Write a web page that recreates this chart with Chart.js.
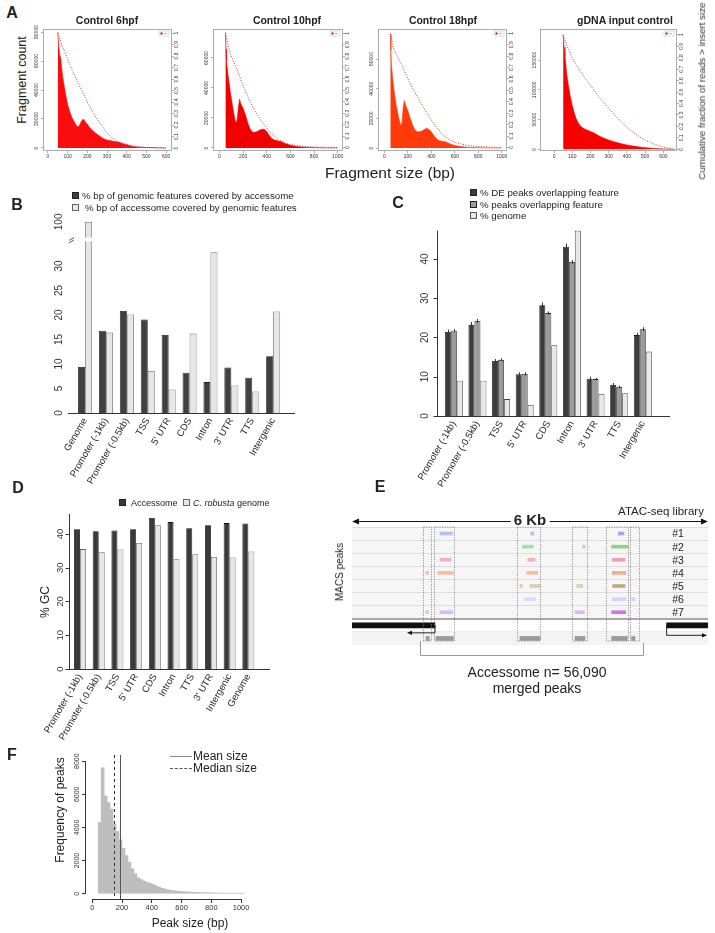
<!DOCTYPE html>
<html>
<head>
<meta charset="utf-8">
<title>ATAC-seq accessome</title>
<script src="https://cdn.jsdelivr.net/npm/chart.js@4.4.1/dist/chart.umd.min.js"></script>
<style>
  body { margin: 0; width: 715px; height: 933px; background: #fff; position: relative; overflow: hidden;
         font-family: "Liberation Sans", Arial, Helvetica, sans-serif; color: #222; }
  canvas { position: absolute; }
  .lbl { position: absolute; white-space: nowrap; line-height: 1; transform: translate(-50%, -50%); }
  .left { position: absolute; white-space: nowrap; line-height: 1; transform: translateY(-50%); }
  .rot { transform: translate(-50%, -50%) rotate(-90deg); }
  .letter { font-weight: bold; font-size: 16px; }
  .ttl { font-weight: bold; font-size: 10.5px; }
  .key { position: absolute; width: 5px; height: 5px; border: 1px solid #222; }
</style>
</head>
<body>
<canvas id="a1" width="160" height="140" style="left:30px;top:25px"></canvas>
<canvas id="a2" width="160" height="140" style="left:200px;top:25px"></canvas>
<canvas id="a3" width="160" height="140" style="left:365px;top:25px"></canvas>
<canvas id="a4" width="170" height="140" style="left:527px;top:25px"></canvas>
<canvas id="b" width="290" height="290" style="left:20px;top:210px"></canvas>
<canvas id="c" width="315" height="290" style="left:375px;top:225px"></canvas>
<canvas id="d" width="280" height="255" style="left:10px;top:505px"></canvas>
<canvas id="e" width="375" height="150" style="left:340px;top:510px"></canvas>
<canvas id="f" width="230" height="180" style="left:40px;top:745px"></canvas>

<div class="lbl letter" style="left:12px;top:13px">A</div>
<div class="lbl ttl" style="left:107px;top:20px">Control 6hpf</div>
<div class="lbl ttl" style="left:287px;top:20px">Control 10hpf</div>
<div class="lbl ttl" style="left:443px;top:20px">Control 18hpf</div>
<div class="lbl ttl" style="left:625px;top:20px">gDNA input control</div>
<div class="lbl rot" style="left:22px;top:80px;font-size:12.5px">Fragment count</div>
<div class="lbl" style="left:390px;top:173px;font-size:15.5px">Fragment size (bp)</div>
<div class="lbl rot" style="left:702px;top:91px;font-size:9.8px;color:#333">Cumulative fraction of reads &gt; insert size</div>

<div class="lbl letter" style="left:17px;top:205px">B</div>
<div class="key" style="left:72px;top:192px;background:#404040"></div>
<div class="left" style="left:82px;top:196px;font-size:9.7px">% bp of genomic features covered by accessome</div>
<div class="key" style="left:72px;top:204px;background:#e8e8e8;border-color:#666"></div>
<div class="left" style="left:85px;top:208px;font-size:9.7px">% bp of accessome covered by genomic features</div>

<div class="lbl letter" style="left:398px;top:203px">C</div>
<div class="key" style="left:470px;top:189px;background:#3d3d3d"></div>
<div class="left" style="left:480px;top:193px;font-size:9.7px">% DE peaks overlapping feature</div>
<div class="key" style="left:470px;top:201px;background:#9b9b9b"></div>
<div class="left" style="left:480px;top:205px;font-size:9.7px">% peaks overlapping feature</div>
<div class="key" style="left:470px;top:212px;background:#e8e8e8;border-color:#555"></div>
<div class="left" style="left:480px;top:216px;font-size:9.7px">% genome</div>

<div class="lbl letter" style="left:18px;top:488px">D</div>
<div class="key" style="left:119px;top:499px;background:#3a3a3a"></div>
<div class="left" style="left:131px;top:503px;font-size:9px">Accessome</div>
<div class="key" style="left:183px;top:499px;background:#e6e6e6;border-color:#666"></div>
<div class="left" style="left:193px;top:503px;font-size:9px"><i>C. robusta</i> genome</div>
<div class="lbl rot" style="left:45px;top:602px;font-size:12px">% GC</div>

<div class="lbl letter" style="left:380px;top:487px">E</div>
<div class="lbl" style="left:530px;top:519px;font-size:15px;font-weight:bold;background:#fff;padding:0 3px">6 Kb</div>
<div class="lbl" style="left:661px;top:512px;font-size:11.5px">ATAC-seq library</div>
<div class="lbl rot" style="left:340px;top:572px;font-size:10px">MACS peaks</div>
<div class="lbl" style="left:537px;top:672px;font-size:14px">Accessome n= 56,090</div>
<div class="lbl" style="left:537px;top:688px;font-size:14px">merged peaks</div>

<div class="lbl letter" style="left:12px;top:755px">F</div>
<div class="lbl rot" style="left:60px;top:810px;font-size:12px">Frequency of peaks</div>
<div class="lbl" style="left:190px;top:923px;font-size:12px">Peak size (bp)</div>
<div style="position:absolute;left:170px;top:756px;width:22px;border-top:1px solid #888"></div>
<div class="left" style="left:193px;top:756px;font-size:12px">Mean size</div>
<div style="position:absolute;left:170px;top:768px;width:22px;border-top:1px dashed #555"></div>
<div class="left" style="left:193px;top:768px;font-size:12px">Median size</div>

<script>
// ---------- A: fragment size distributions ----------
const sizes6 = [50, 55, 60, 65, 70, 75, 80, 90, 100, 110, 120, 130, 140, 150, 160, 170, 180, 190, 200, 210, 220, 240, 260, 280, 300, 320, 340, 360, 380, 400, 430, 460, 500, 550, 600];
const counts6 = [80000, 70000, 64000, 62000, 55000, 49000, 45000, 37000, 30000, 25500, 21500, 19000, 16500, 14500, 15500, 18500, 20000, 18000, 16500, 14500, 13000, 10500, 8500, 6500, 5500, 5000, 4400, 3900, 3000, 2200, 1100, 600, 300, 120, 0];
const cumX6 = [50, 75, 100, 125, 150, 175, 200, 225, 250, 275, 300, 325, 350, 400, 450, 500, 600];
const cum6 = [1.0, 0.88, 0.77, 0.67, 0.58, 0.49, 0.40, 0.32, 0.25, 0.19, 0.13, 0.09, 0.06, 0.03, 0.012, 0.005, 0];

const sizes10 = [50, 55, 60, 70, 80, 90, 100, 110, 120, 130, 140, 150, 160, 170, 180, 190, 200, 220, 240, 260, 280, 300, 320, 340, 360, 380, 400, 420, 440, 460, 480, 500, 520, 540, 560, 600, 650, 700, 750, 800, 900, 1000];
const counts10 = [77000, 66000, 58000, 50000, 44000, 38000, 33000, 28000, 23500, 19000, 16500, 19000, 27000, 32500, 29500, 28000, 26500, 22000, 16500, 12500, 10500, 10500, 11000, 12000, 12500, 12500, 11000, 8500, 6500, 5500, 5000, 4700, 4300, 3500, 2800, 1800, 1000, 600, 350, 200, 80, 0];
const sizes18 = [50, 55, 60, 70, 80, 90, 100, 110, 120, 130, 140, 150, 160, 170, 180, 190, 200, 220, 240, 260, 280, 300, 320, 340, 360, 380, 400, 420, 440, 460, 480, 500, 520, 540, 560, 600, 650, 700, 750, 800, 900, 1000];
const counts18 = [76800, 66000, 56000, 47000, 40000, 34000, 29000, 25000, 21000, 17500, 15000, 17000, 27500, 32000, 29000, 27000, 25000, 20000, 15500, 12000, 11000, 11000, 11500, 12500, 13300, 12500, 11000, 8500, 6500, 5200, 4800, 4400, 4200, 3500, 2700, 1700, 1000, 550, 300, 150, 50, 0];
const cumX1018 = [50, 75, 100, 125, 150, 175, 200, 250, 300, 350, 400, 450, 500, 550, 600, 700, 800, 1000];
const cum10 = [1.0, 0.88, 0.80, 0.74, 0.68, 0.61, 0.54, 0.42, 0.32, 0.24, 0.17, 0.11, 0.07, 0.04, 0.025, 0.01, 0.004, 0];
const cum18 = [1.0, 0.88, 0.82, 0.77, 0.72, 0.66, 0.60, 0.50, 0.41, 0.32, 0.24, 0.17, 0.11, 0.07, 0.045, 0.02, 0.008, 0];

const sizesG = [50, 55, 60, 70, 80, 90, 100, 110, 120, 130, 140, 150, 160, 180, 200, 220, 250, 275, 300, 325, 350, 375, 400, 450, 500, 550, 600, 650, 665];
const countsG = [193000, 172000, 157000, 126000, 105000, 88000, 74000, 62000, 53000, 46000, 41000, 38000, 35500, 32500, 30000, 27500, 22000, 18500, 15500, 13000, 11000, 9000, 7300, 4800, 2800, 1500, 700, 200, 0];
const cumXG = [50, 75, 100, 125, 150, 175, 200, 250, 300, 350, 400, 450, 500, 550, 600, 650];
const cumG = [1.0, 0.89, 0.80, 0.73, 0.67, 0.61, 0.56, 0.45, 0.36, 0.27, 0.19, 0.13, 0.08, 0.045, 0.02, 0];

const xTicks600 = [0, 100, 200, 300, 400, 500, 600];
const xTicks1000 = [0, 200, 400, 600, 800, 1000];
const yTicks80k = [0, 20000, 40000, 60000, 80000];
const yTicks60k = [0, 20000, 40000, 60000];
const yTicksG = [0, 50000, 100000, 150000];
const cumTicks = [0, 0.1, 0.2, 0.3, 0.4, 0.5, 0.6, 0.7, 0.8, 0.9, 1];

// ---------- B ----------
const featB = ['Genome', 'Promoter (-1kb)', 'Promoter (-0.5kb)', 'TSS', "5' UTR", 'CDS', 'Intron', "3' UTR", 'TTS', 'Intergenic'];
const bFeatCov = [9.4, 16.8, 20.8, 19.1, 15.9, 8.2, 6.3, 9.3, 7.2, 11.6];
const bAccCov = [100, 16.4, 20.1, 8.6, 4.8, 16.2, 32.8, 5.6, 4.4, 20.7];
const bTicks = [0, 5, 10, 15, 20, 25, 30, 100];

// ---------- C ----------
const featC = ['Promoter (-1kb)', 'Promoter (-0.5kb)', 'TSS', "5' UTR", 'CDS', 'Intron', "3' UTR", 'TTS', 'Intergenic'];
const cDE = [21.4, 23.2, 14.0, 10.6, 28.2, 43.1, 9.5, 7.9, 20.6];
const cPeaks = [21.7, 24.2, 14.3, 10.7, 26.2, 39.2, 9.4, 7.4, 22.1];
const cGenome = [9.0, 9.0, 4.3, 2.8, 18.0, 47.2, 5.6, 5.8, 16.4];
const cDEErr = [0.6, 0.7, 0.5, 0.5, 0.7, 0.8, 0.5, 0.5, 0.6];
const cPeaksErr = [0.4, 0.5, 0.4, 0.4, 0.4, 0.5, 0.3, 0.3, 0.5];
const cTicks = [0, 10, 20, 30, 40];

// ---------- D ----------
const featD = ['Promoter (-1kb)', 'Promoter (-0.5kb)', 'TSS', "5' UTR", 'CDS', 'Intron', 'TTS', "3' UTR", 'Intergenic', 'Genome'];
const dAccessome = [41.4, 40.8, 41.0, 41.4, 44.7, 43.5, 41.7, 42.6, 43.2, 43.1];
const dGenome = [35.5, 34.6, 35.4, 37.3, 42.6, 32.5, 34.0, 33.2, 33.0, 34.8];
const dTicks = [0, 10, 20, 30, 40];

// ---------- E (positions in bp over the 6 kb window) ----------
const eLib = ['#1', '#2', '#3', '#4', '#5', '#6', '#7'];
const ePeakStart = [[1483, 3011, 4489], [2871, 3888, 4376], [1483, 2961, 4388], [1247, 1444, 2944, 4388], [2831, 3000, 3787, 4393], [2905, 4388, 4713], [1247, 1483, 3758, 4376]];
const ePeakEnd = [[1691, 3067, 4584], [3056, 3927, 4657], [1669, 3084, 4601], [1287, 1708, 3129, 4612], [2871, 3169, 3888, 4601], [3096, 4618, 4770], [1287, 1697, 3916, 4612]];
const eSoft = ['#bdbdf3', '#aedcaa', '#f5aec5', '#f5bca2', '#dccdab', '#dcdcfa', '#dcbaf4'];
const eStrong = ['#a4a4ea', '#95d08e', '#f29cba', '#f2ac8e', '#c4a878', '#d4d4f8', '#c67ae4'];
const mergedStart = [1247, 1416, 2831, 3758, 4376, 4713];
const mergedEnd = [1303, 1708, 3169, 3927, 4641, 4770];
const geneStart = [0, 5303];
const geneEnd = [1399, 6000];
const boxStart = [1191, 1387, 2775, 3713, 4275, 4685];
const boxEnd = [1326, 1725, 3169, 3966, 4657, 4837];

// ---------- F ----------
const fBinMid = [50, 70, 90, 110, 130, 150, 170, 190, 210, 230, 250, 270, 290, 310, 330, 350, 370, 390, 410, 430, 450, 470, 490, 510, 530, 550, 570, 590, 610, 630, 650, 670, 690, 710, 730, 750, 770, 790, 810, 830, 850, 870, 890, 910, 930, 950, 970, 990, 1010];
const fCounts = [4300, 7600, 5900, 5500, 5100, 4200, 3750, 3250, 2750, 2300, 1900, 1500, 1200, 950, 850, 760, 680, 620, 560, 480, 400, 330, 280, 240, 205, 180, 160, 140, 125, 112, 100, 90, 82, 75, 68, 62, 57, 52, 48, 44, 40, 37, 34, 31, 28, 26, 24, 22, 20];
const fXTicks = [0, 200, 400, 600, 800, 1000];
const fYTicks = [0, 2000, 4000, 6000, 8000];
const meanSize = 187;
const medianSize = 147;

Chart.defaults.font.family = '"Liberation Sans", Arial, Helvetica, sans-serif';
Chart.defaults.color = '#333';
Chart.defaults.animation = false;
Chart.defaults.responsive = false;
Chart.defaults.events = [];
Chart.defaults.plugins.legend.display = false;
Chart.defaults.plugins.tooltip.enabled = false;

const asText = v => String(v);
const setTicks = vals => s => { s.ticks = vals.map(v => ({value: v})); };
const fixW = w => s => { s.width = w; s.paddingTop = 0; s.paddingBottom = 0; };
const fixH = h => s => { s.height = h; s.paddingLeft = 0; s.paddingRight = 0; };
const noGrid = {display: false, drawTicks: false};

// box round the R plot + the tiny legend key
const frameBox = {
  id: 'frameBox',
  afterDraw(chart) {
    const {ctx, chartArea: a} = chart;
    ctx.save();
    ctx.strokeStyle = '#9a9a9a';
    ctx.lineWidth = 0.8;
    ctx.strokeRect(a.left + 0.5, a.top + 0.5, a.right - a.left - 1, a.bottom - a.top - 1);
    ctx.fillStyle = '#fff';
    ctx.fillRect(a.right - 13, a.top + 2, 10, 5);
    ctx.strokeStyle = '#bbb';
    ctx.lineWidth = 0.5;
    ctx.strokeRect(a.right - 13, a.top + 2, 10, 5);
    ctx.fillStyle = '#a01010';
    ctx.fillRect(a.right - 11.5, a.top + 3.5, 2, 2);
    ctx.fillStyle = '#999';
    ctx.fillRect(a.right - 8, a.top + 4.2, 3, 0.7);
    ctx.restore();
  }
};

function fragChart(id, sizes, counts, cumX, cum, xr, yr, cr, xt, yt, col, wy1, padY) {
  const tickGrid = {drawOnChartArea: false, tickLength: 2, color: '#777', lineWidth: 0.6};
  return new Chart(document.getElementById(id), {
    type: 'line',
    data: {
      datasets: [
        {data: cumX.map((x, i) => ({x, y: cum[i]})), yAxisID: 'y1', order: 1, fill: false,
         borderColor: '#a3282a', borderWidth: 0.9, borderDash: [1, 1.6], pointRadius: 0},
        {data: sizes.map((x, i) => ({x, y: counts[i]})), yAxisID: 'y', order: 2, fill: 'origin',
         borderColor: col, backgroundColor: col, borderWidth: 0.6, pointRadius: 0}
      ]
    },
    options: {
      layout: {padding: {top: 4}},
      scales: {
        x: {type: 'linear', min: xr[0], max: xr[1], afterBuildTicks: setTicks(xt), afterFit: fixH(14),
            border: {display: false}, grid: tickGrid,
            ticks: {font: {size: 5}, padding: 1, maxRotation: 0, callback: asText}},
        y: {min: yr[0], max: yr[1], afterBuildTicks: setTicks(yt), afterFit: fixW(13),
            border: {display: false}, grid: tickGrid,
            ticks: {font: {size: 5}, padding: padY, minRotation: 90, maxRotation: 90, crossAlign: 'center', callback: asText}},
        y1: {position: 'right', min: cr[0], max: cr[1], afterBuildTicks: setTicks(cumTicks), afterFit: fixW(wy1),
             border: {display: false}, grid: tickGrid,
             ticks: {font: {size: 5}, padding: -0.5, minRotation: 90, maxRotation: 90, crossAlign: 'center', callback: asText}}
      }
    },
    plugins: [frameBox]
  });
}

fragChart('a1', sizes6, counts6, cumX6, cum6, [-25, 630], [-2070, 82070], [-0.026, 1.035], xTicks600, yTicks80k, '#fb0d0d', 18, -3);
fragChart('a2', sizes10, counts10, cumX1018, cum10, [-55, 1045], [-2000, 79300], [-0.031, 1.038], xTicks1000, yTicks60k, '#f20000', 17, -3);
fragChart('a3', sizes18, counts18, cumX1018, cum18, [-55, 1045], [-2020, 80240], [-0.031, 1.038], xTicks1000, yTicks60k, '#ff3a0a', 18, -3);
fragChart('a4', sizesG, countsG, cumXG, cumG, [-77, 675], [-2860, 202200], [-0.015, 1.052], xTicks600, yTicksG, '#f80000', 20, -4.5);

// R-style axes for the bar plots: x line, y line with ticks, break mark, error bars
const rAxes = {
  id: 'rAxes',
  afterDatasetsDraw(chart, args, o) {
    const {ctx, chartArea: a, scales: {y}} = chart;
    ctx.save();
    ctx.strokeStyle = '#333';
    ctx.lineWidth = 1;
    if (o.err) {
      o.err.forEach((errs, di) => {
        const vals = chart.data.datasets[di].data;
        chart.getDatasetMeta(di).data.forEach((bar, i) => {
          const bx = Math.round(bar.x) + 0.5;
          ctx.beginPath();
          ctx.moveTo(bx, y.getPixelForValue(vals[i] + errs[i]));
          ctx.lineTo(bx, y.getPixelForValue(vals[i] - errs[i]));
          ctx.stroke();
        });
      });
    }
    if (o.breakAt !== undefined) {
      const py = y.getPixelForValue(o.breakAt);
      ctx.fillStyle = '#fff';
      ctx.fillRect(a.left, py - 1.8, a.right - a.left, 3.6);
      ctx.lineWidth = 0.8;
      ctx.beginPath();
      ctx.moveTo(o.xLine[0] + 1, py + 1); ctx.lineTo(o.xLine[0] + 6, py - 2);
      ctx.moveTo(o.xLine[0] + 1, py + 3.5); ctx.lineTo(o.xLine[0] + 6, py + 0.5);
      ctx.stroke();
      ctx.lineWidth = 1;
    }
    const by = Math.round(a.bottom) + 0.5;
    ctx.beginPath();
    ctx.moveTo(o.xLine[0], by);
    ctx.lineTo(o.xLine[1], by);
    ctx.stroke();
    if (o.yAt !== undefined) {
      const x = o.yAt + 0.5;
      ctx.beginPath();
      ctx.moveTo(x, a.top);
      ctx.lineTo(x, by);
      y.ticks.forEach(t => {
        const p = Math.round(y.getPixelForValue(t.value)) + 0.5;
        ctx.moveTo(x - 4, p);
        ctx.lineTo(x, p);
      });
      ctx.stroke();
    }
    ctx.restore();
  }
};

const rotX = {font: {size: 9.5}, minRotation: 60, maxRotation: 60, autoSkip: false, padding: 3, color: '#222'};
const rotY = pad => ({font: {size: 10}, minRotation: 90, maxRotation: 90, crossAlign: 'center', padding: pad, color: '#333'});

// broken axis above ~34 %
const brk = v => (v <= 34 ? v : 35 + (v - 34) * 4 / 66);

new Chart(document.getElementById('b'), {
  type: 'bar',
  data: {
    labels: featB,
    datasets: [
      {data: bFeatCov.map(brk), backgroundColor: '#404040', borderColor: '#1a1a1a', borderWidth: 0.8},
      {data: bAccCov.map(brk), backgroundColor: '#e6e6e6', borderColor: '#6a6a6a', borderWidth: 0.8}
    ]
  },
  options: {
    layout: {padding: {top: 5, right: 26.4}},
    datasets: {bar: {categoryPercentage: 0.67, barPercentage: 1}},
    plugins: {rAxes: {xLine: [48, 275], breakAt: 35.4}},
    scales: {
      x: {afterFit: fixH(87), border: {display: false}, grid: noGrid, ticks: rotX},
      y: {min: 0, max: 40.4, afterBuildTicks: setTicks(bTicks.map(brk)), afterFit: fixW(54.6),
          border: {display: false}, grid: noGrid,
          ticks: {...rotY(7), callback: (v, i) => String(bTicks[i])}}
    }
  },
  plugins: [rAxes]
});

new Chart(document.getElementById('c'), {
  type: 'bar',
  data: {
    labels: featC,
    datasets: [
      {data: cDE, backgroundColor: '#3d3d3d', borderColor: '#111', borderWidth: 0.8},
      {data: cPeaks, backgroundColor: '#9b9b9b', borderColor: '#222', borderWidth: 0.8},
      {data: cGenome, backgroundColor: '#e8e8e8', borderColor: '#444', borderWidth: 0.8}
    ]
  },
  options: {
    layout: {padding: {top: 5.6, right: 35.4}},
    datasets: {bar: {categoryPercentage: 0.76, barPercentage: 1}},
    plugins: {rAxes: {xLine: [62, 295], yAt: 62, err: [cDEErr, cPeaksErr]}},
    scales: {
      x: {afterFit: fixH(99), border: {display: false}, grid: noGrid, ticks: rotX},
      y: {min: 0, max: 47.2, afterBuildTicks: setTicks(cTicks), afterFit: fixW(67),
          border: {display: false}, grid: noGrid, ticks: {...rotY(11.4), callback: asText}}
    }
  },
  plugins: [rAxes]
});

new Chart(document.getElementById('d'), {
  type: 'bar',
  data: {
    labels: featD,
    datasets: [
      {data: dAccessome, backgroundColor: '#3a3a3a', borderColor: '#111', borderWidth: 0.8},
      {data: dGenome, backgroundColor: '#e6e6e6', borderColor: '#666', borderWidth: 0.8}
    ]
  },
  options: {
    layout: {padding: {top: 9, right: 32.3}},
    datasets: {bar: {categoryPercentage: 0.64, barPercentage: 1}},
    plugins: {rAxes: {xLine: [59, 260], yAt: 59}},
    scales: {
      x: {afterFit: fixH(91), border: {display: false}, grid: noGrid, ticks: rotX},
      y: {min: 0, max: 45.9, afterBuildTicks: setTicks(dTicks), afterFit: fixW(60.65),
          border: {display: false}, grid: noGrid, ticks: {...rotY(5.3), font: {size: 9.5}, callback: asText}}
    }
  },
  plugins: [rAxes]
});

// ---------- E: browser view ----------
const eDecor = {
  id: 'eDecor',
  beforeDraw(chart) {
    const {ctx, chartArea: a, scales: {y}} = chart;
    const band = y.getPixelForValue(1) - y.getPixelForValue(0);
    ctx.save();
    ctx.fillStyle = '#f6f6f6';
    ctx.fillRect(a.left, a.top, a.right - a.left, band * 7);
    ctx.fillStyle = '#f3f3f3';
    ctx.fillRect(a.left, a.top + band * 8, a.right - a.left, band);
    ctx.restore();
  },
  afterDatasetsDraw(chart) {
    const {ctx, chartArea: a, scales: {x, y}} = chart;
    ctx.save();
    // dotted boxes round the peak clusters
    ctx.strokeStyle = '#7a7a7a';
    ctx.lineWidth = 0.8;
    ctx.setLineDash([1.2, 1.3]);
    boxStart.forEach((s, k) => {
      const x0 = Math.round(x.getPixelForValue(s)) + 0.5;
      const x1 = Math.round(x.getPixelForValue(boxEnd[k])) + 0.5;
      ctx.strokeRect(x0, a.top, x1 - x0, a.bottom - 4 - a.top);
    });
    ctx.setLineDash([]);
    // 6 kb double arrow
    const ty = a.top - 5.5;
    ctx.strokeStyle = '#111';
    ctx.fillStyle = '#111';
    ctx.lineWidth = 1;
    ctx.beginPath();
    ctx.moveTo(a.left + 4, ty); ctx.lineTo(a.right - 4, ty);
    ctx.stroke();
    ctx.beginPath();
    ctx.moveTo(a.left, ty); ctx.lineTo(a.left + 7, ty - 3); ctx.lineTo(a.left + 7, ty + 3); ctx.closePath();
    ctx.moveTo(a.right, ty); ctx.lineTo(a.right - 7, ty - 3); ctx.lineTo(a.right - 7, ty + 3); ctx.closePath();
    ctx.fill();
    // transcription start arrows
    const gy = y.getPixelForValue(7);
    ctx.lineWidth = 0.9;
    const lx = x.getPixelForValue(geneEnd[0]);
    const lTip = x.getPixelForValue(927);
    ctx.beginPath();
    ctx.moveTo(lx, gy); ctx.lineTo(lx, gy + 7.5); ctx.lineTo(lTip + 3, gy + 7.5);
    ctx.stroke();
    ctx.beginPath();
    ctx.moveTo(lTip, gy + 7.5); ctx.lineTo(lTip + 5, gy + 5.3); ctx.lineTo(lTip + 5, gy + 9.7); ctx.closePath();
    ctx.fill();
    const rx = x.getPixelForValue(geneStart[1]);
    const rTip = x.getPixelForValue(5983);
    ctx.beginPath();
    ctx.moveTo(rx, gy); ctx.lineTo(rx, gy + 10); ctx.lineTo(rTip - 3, gy + 10);
    ctx.stroke();
    ctx.beginPath();
    ctx.moveTo(rTip, gy + 10); ctx.lineTo(rTip - 5, gy + 7.8); ctx.lineTo(rTip - 5, gy + 12.2); ctx.closePath();
    ctx.fill();
    // bracket joining the merged peaks
    ctx.strokeStyle = '#9a9a9a';
    ctx.lineWidth = 1;
    const b0 = Math.round(x.getPixelForValue(1146)) + 0.5;
    const b1 = Math.round(x.getPixelForValue(4904)) + 0.5;
    ctx.beginPath();
    ctx.moveTo(b0, a.bottom - 4); ctx.lineTo(b0, a.bottom + 10.5); ctx.lineTo(b1, a.bottom + 10.5); ctx.lineTo(b1, a.bottom - 2);
    ctx.stroke();
    // library labels
    ctx.fillStyle = '#222';
    ctx.font = '10.5px "Liberation Sans", Arial, sans-serif';
    ctx.textAlign = 'center';
    ctx.textBaseline = 'middle';
    eLib.forEach((lib, i) => ctx.fillText(lib, 338, y.getPixelForValue(i) + 1));
    ctx.restore();
  }
};

const eDatasets = eLib.map((lib, r) => ({
  data: ePeakStart[r].map((s, k) => ({x: [s, ePeakEnd[r][k]], y: lib})),
  backgroundColor: ePeakStart[r].map(s => (s > 4300 ? eStrong[r] : eSoft[r])),
  barThickness: 3, grouped: false, borderWidth: 0
}));
eDatasets.push({data: geneStart.map((s, k) => ({x: [s, geneEnd[k]], y: 'gene'})),
                backgroundColor: '#111', barThickness: 5, grouped: false, borderWidth: 0});
eDatasets.push({data: mergedStart.map((s, k) => ({x: [s, mergedEnd[k]], y: 'merged'})),
                backgroundColor: '#9a9a9a', barThickness: 4, grouped: false, borderWidth: 0});

new Chart(document.getElementById('e'), {
  type: 'bar',
  data: {labels: [...eLib, 'gene', 'merged'], datasets: eDatasets},
  options: {
    indexAxis: 'y',
    layout: {padding: {top: 17, bottom: 15, right: 7}},
    scales: {
      x: {type: 'linear', min: 0, max: 6000, display: false},
      y: {afterFit: fixW(12), border: {display: false}, ticks: {display: false},
          grid: {offset: true, drawTicks: false,
                 color: c => (c.index === undefined || c.index > 8 ? 'rgba(0,0,0,0)' : c.index === 7 ? '#a8a8a8' : c.index === 8 ? '#eeeeee' : '#dddddd'),
                 lineWidth: c => (c.index === 7 ? 2 : 1)}}
    }
  },
  plugins: [eDecor]
});

// ---------- F: peak size histogram ----------
const fLines = {
  id: 'fLines',
  afterDatasetsDraw(chart) {
    const {ctx, chartArea: a, scales: {x, y}} = chart;
    ctx.save();
    ctx.strokeStyle = '#333';
    ctx.lineWidth = 1;
    ctx.beginPath();
    ctx.moveTo(x.getPixelForValue(fXTicks[0]), a.bottom + 0.5);
    ctx.lineTo(x.getPixelForValue(fXTicks[fXTicks.length - 1]), a.bottom + 0.5);
    ctx.moveTo(a.left - 0.5, y.getPixelForValue(fYTicks[0]));
    ctx.lineTo(a.left - 0.5, y.getPixelForValue(fYTicks[fYTicks.length - 1]));
    ctx.stroke();
    const mx = Math.round(x.getPixelForValue(meanSize)) + 0.5;
    ctx.strokeStyle = '#555';
    ctx.beginPath();
    ctx.moveTo(mx, a.top); ctx.lineTo(mx, a.bottom);
    ctx.stroke();
    const dx = Math.round(x.getPixelForValue(medianSize)) + 0.5;
    ctx.strokeStyle = '#333';
    ctx.setLineDash([3, 3]);
    ctx.beginPath();
    ctx.moveTo(dx, a.top); ctx.lineTo(dx, a.bottom);
    ctx.stroke();
    ctx.restore();
  }
};

new Chart(document.getElementById('f'), {
  type: 'bar',
  data: {datasets: [{data: fBinMid.map((x, i) => ({x, y: fCounts[i]})), backgroundColor: '#bebebe',
                     borderWidth: 0, barPercentage: 1, categoryPercentage: 1}]},
  options: {
    layout: {padding: {top: 10, right: 20}},
    scales: {
      x: {type: 'linear', offset: false, min: -42, max: 1060, afterBuildTicks: setTicks(fXTicks), afterFit: fixH(26),
          border: {display: false}, grid: {offset: false, drawOnChartArea: false, tickLength: 4, color: '#333'},
          ticks: {font: {size: 7.5}, padding: 0, maxRotation: 0, callback: asText}},
      y: {min: -320, max: 8370, afterBuildTicks: setTicks(fYTicks), afterFit: fixW(46),
          border: {display: false}, grid: {drawOnChartArea: false, tickLength: 4, color: '#333'},
          ticks: {font: {size: 7}, padding: -2.5, minRotation: 90, maxRotation: 90, crossAlign: 'center', callback: asText}}
    }
  },
  plugins: [fLines]
});
</script>
</body>
</html>
